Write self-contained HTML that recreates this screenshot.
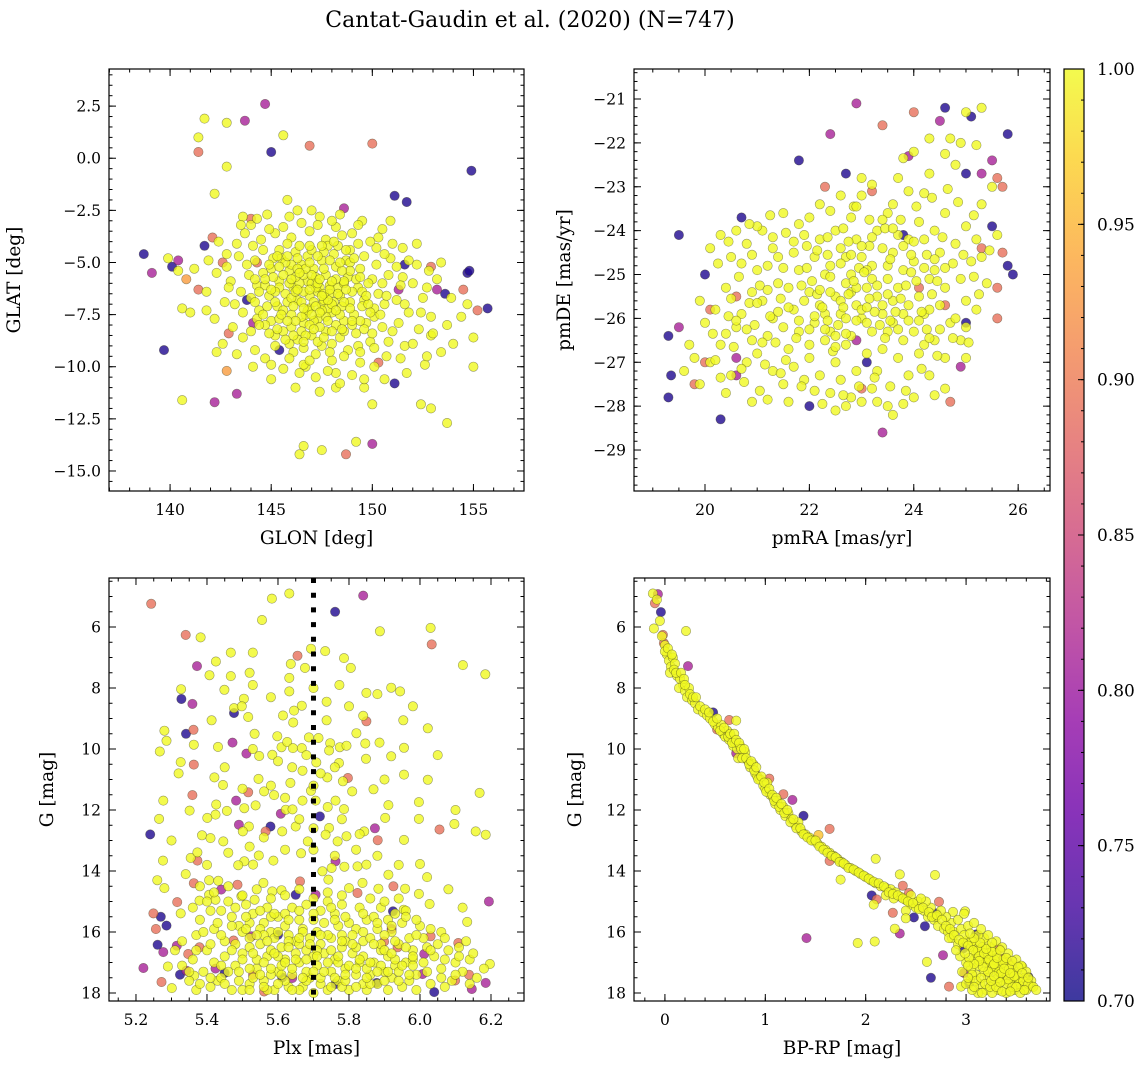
<!DOCTYPE html>
<html><head><meta charset="utf-8">
<style>
html,body{margin:0;padding:0;background:#fff;}
svg{display:block;font-family:"DejaVu Serif","Liberation Serif",serif;}
</style></head>
<body>
<svg id="fig" width="1148" height="1068" viewBox="0 0 1148 1068" xmlns="http://www.w3.org/2000/svg">
<defs>
<linearGradient id="plasmaGrad" x1="0" y1="1" x2="0" y2="0">
<stop offset="0" stop-color="#0d0887"/><stop offset="0.1" stop-color="#41049d"/><stop offset="0.2" stop-color="#6a00a8"/><stop offset="0.3" stop-color="#8f0da4"/><stop offset="0.4" stop-color="#b12a90"/><stop offset="0.5" stop-color="#cc4778"/><stop offset="0.6" stop-color="#e16462"/><stop offset="0.7" stop-color="#f2844b"/><stop offset="0.8" stop-color="#fca636"/><stop offset="0.9" stop-color="#fcce25"/><stop offset="1" stop-color="#f0f921"/>
</linearGradient>
</defs>
<text x="530" y="27" font-size="22" text-anchor="middle">Cantat-Gaudin et al. (2020) (N=747)</text>
</svg>
<script>
// ---------- DATA ----------
const memberProb = 1.0;
// Panel 1: GLON, GLAT
const p1Members = [[146.1,-6.2],[146.8,-5.9],[147.3,-6.4],[147.9,-6.1],[148.4,-6.6],[148.9,-6.9],[147.5,-7.0],[146.9,-7.2],[146.3,-6.8],[145.7,-6.5],[145.4,-5.9],[145.9,-5.4],[146.5,-5.1],[147.1,-5.3],[147.7,-5.6],[148.2,-5.2],[148.8,-5.7],[149.3,-6.2],[149.6,-6.8],[149.1,-7.5],[148.6,-7.8],[148.0,-7.4],[147.3,-7.7],[146.6,-7.9],[146.0,-7.5],[145.3,-7.1],[144.9,-6.6],[145.0,-5.3],[145.5,-4.8],[146.2,-4.5],[146.8,-4.7],[147.5,-4.9],[148.1,-4.6],[148.7,-4.9],[149.4,-5.3],[150.0,-5.8],[150.3,-6.5],[150.1,-7.2],[149.7,-7.9],[149.2,-8.4],[148.4,-8.6],[147.7,-8.3],[147.0,-8.5],[146.3,-8.7],[145.6,-8.3],[145.0,-7.8],[144.4,-7.3],[144.3,-6.1],[144.6,-5.5],[144.2,-4.9],[146.9,-6.6],[147.6,-6.8],[148.3,-6.2],[147.0,-6.0],[147.8,-7.2],[146.4,-6.0],[148.6,-6.0],[147.2,-5.7],[146.7,-7.5],[148.1,-6.9],[149.0,-6.4],[145.8,-6.9],[147.4,-6.2],[146.2,-5.7],[148.9,-5.0],[149.8,-6.0],[150.6,-7.0],[150.8,-5.6],[151.2,-6.8],[150.5,-8.1],[151.0,-8.3],[149.9,-8.8],[148.8,-9.2],[147.5,-9.0],[146.1,-9.3],[145.2,-9.0],[144.0,-8.3],[143.6,-7.4],[143.5,-6.4],[143.9,-5.6],[143.4,-4.7],[144.5,-3.9],[145.2,-3.6],[146.0,-3.8],[146.9,-3.5],[147.7,-3.9],[148.5,-3.7],[149.3,-4.1],[150.2,-4.3],[150.9,-4.8],[151.5,-5.7],[151.8,-7.4],[152.3,-8.2],[151.6,-9.0],[150.7,-9.5],[149.4,-9.8],[148.0,-9.7],[146.7,-10.0],[145.6,-10.1],[144.7,-9.6],[143.1,-8.1],[142.7,-6.9],[142.3,-5.5],[142.8,-4.6],[143.7,-3.6],[144.8,-2.7],[146.3,-2.5],[147.4,-2.8],[148.4,-2.7],[149.5,-3.0],[150.5,-3.4],[151.5,-4.3],[152.2,-5.1],[152.7,-6.2],[152.9,-7.6],[147.1,-6.9],[147.9,-6.5],[146.6,-6.4],[148.5,-7.1],[147.6,-5.3],[146.0,-6.7],[148.2,-8.0],[145.4,-6.2],[146.5,-8.3],[149.5,-7.1],[147.8,-4.2],[143.0,-5.9],[153.4,-5.0],[154.0,-8.9],[152.6,-9.9],[141.8,-6.4],[141.2,-5.3],[153.9,-6.7],[141.7,1.9],[141.4,1.0],[142.8,1.7],[145.6,1.1],[142.8,-0.4],[142.2,-1.7],[145.8,-2.0],[140.6,-7.2],[141.0,-7.4],[140.6,-11.6],[142.3,-9.3],[154.7,-7.0],[155.0,-8.6],[155.0,-10.0],[149.2,-13.6],[147.5,-14.0],[146.4,-14.2],[146.6,-13.8],[152.4,-11.8],[152.9,-12.0],[153.7,-12.7],[150.0,-11.8],[149.6,-11.0],[148.2,-11.0],[148.2,-10.3],[147.2,-10.5],[146.4,-10.3],[146.6,-9.9],[152.9,-8.5],[153.4,-9.3],[153.7,-8.0],[154.4,-7.6],[140.4,-5.4],[139.9,-4.8]];
const p1MembersCore = [[145.6,-5.6],[145.9,-6.0],[146.2,-6.4],[146.5,-6.9],[146.8,-7.3],[147.1,-7.8],[147.4,-8.1],[147.7,-7.6],[148.0,-7.0],[148.3,-6.5],[148.6,-5.9],[148.9,-5.4],[149.2,-5.8],[149.5,-6.4],[149.8,-7.0],[150.1,-7.6],[149.6,-8.2],[149.0,-8.0],[148.4,-7.5],[147.8,-6.8],[147.2,-6.2],[146.6,-5.6],[146.0,-5.1],[145.4,-4.4],[145.8,-4.1],[146.4,-4.2],[147.0,-4.4],[147.6,-4.5],[148.3,-4.2],[148.9,-4.4],[149.6,-4.7],[150.2,-5.1],[150.5,-6.0],[150.7,-6.6],[150.4,-7.5],[150.0,-8.4],[149.3,-9.0],[148.6,-8.3],[148.0,-8.9],[147.3,-8.8],[146.7,-8.5],[146.0,-8.1],[145.4,-7.7],[144.8,-7.1],[144.7,-6.1],[145.1,-5.7],[145.2,-6.4],[145.6,-7.3],[146.1,-7.1],[146.5,-7.6],[146.9,-8.0],[147.5,-7.3],[147.6,-6.5],[147.3,-6.0],[147.0,-5.6],[146.7,-5.3],[146.3,-5.3],[145.7,-5.0],[145.1,-4.8],[144.6,-4.4],[144.1,-4.2],[143.8,-5.1],[144.2,-5.8],[144.0,-6.7],[144.3,-7.7],[144.7,-8.0],[145.2,-8.5],[145.9,-8.9],[146.6,-9.1],[147.2,-9.4],[147.9,-9.3],[148.6,-9.5],[149.4,-9.3],[150.1,-9.1],[150.8,-8.8],[151.3,-7.9],[151.6,-7.0],[151.4,-6.1],[151.2,-5.2],[150.6,-4.6],[149.9,-4.0],[149.0,-3.6],[148.2,-3.3],[147.3,-3.2],[146.5,-3.1],[145.6,-3.3],[144.9,-3.4],[144.0,-3.2],[143.3,-4.1],[142.8,-5.2],[142.9,-6.2],[143.2,-7.0],[143.6,-8.6],[144.2,-9.2],[145.0,-9.9],[145.9,-9.6],[146.9,-9.7],[147.8,-10.2],[149.0,-10.4],[150.1,-10.0],[151.4,-9.6],[152.0,-8.9],[152.4,-7.4],[152.5,-6.7],[152.0,-6.0],[151.8,-4.9],[151.0,-4.1],[150.3,-3.8],[147.2,-7.1],[147.5,-6.6],[147.9,-6.3],[148.2,-5.8],[148.5,-5.4],[148.0,-5.9],[147.4,-5.8],[146.9,-6.3],[146.3,-6.3],[146.0,-5.8],[146.4,-5.5],[146.9,-5.0],[147.3,-4.7],[147.9,-4.9],[148.4,-5.0],[148.7,-6.3],[148.9,-7.2],[148.6,-6.9],[148.2,-7.3],[147.8,-7.8],[147.4,-7.4],[147.0,-7.5],[146.6,-7.2],[146.2,-7.8],[145.8,-7.8],[145.5,-7.5],[145.2,-6.9],[145.0,-6.3],[145.4,-5.2],[145.8,-4.7],[146.3,-4.8],[146.9,-4.2],[147.5,-4.2],[148.1,-4.0],[148.7,-4.4],[149.1,-4.8],[149.4,-5.7],[149.7,-6.6],[149.9,-7.4],[149.4,-7.8],[149.0,-7.8],[148.5,-8.2],[148.0,-8.3],[147.6,-8.6],[147.1,-8.2],[146.6,-8.8],[146.1,-8.5],[145.7,-8.7],[145.3,-8.2],[144.9,-8.4],[144.4,-8.0],[144.6,-7.5],[144.2,-6.9],[144.4,-6.4],[144.7,-5.8],[144.9,-5.1],[145.3,-4.7],[143.6,-2.8],[144.3,-2.9],[145.9,-2.8],[147.0,-2.5],[148.0,-3.0],[149.3,-3.2],[150.9,-3.0],[152.2,-4.1],[152.8,-5.4],[153.2,-5.8],[153.0,-8.4],[152.7,-9.5],[151.7,-10.3],[150.6,-10.6],[149.6,-10.6],[148.4,-10.8],[147.4,-11.2],[146.2,-11.0],[145.0,-10.6],[144.1,-10.0],[143.3,-9.4],[142.6,-8.9],[142.2,-7.7],[141.8,-7.3],[141.9,-4.9],[142.4,-4.0],[143.5,-3.2]];
const p1Others = [[143.7,1.8,0.81],[144.7,2.6,0.81],[146.9,0.6,0.89],[141.4,0.3,0.89],[145.0,0.3,0.71],[150.0,0.7,0.89],[154.9,-0.6,0.71],[151.1,-1.8,0.71],[151.7,-2.1,0.71],[148.6,-2.4,0.81],[138.7,-4.6,0.71],[139.1,-5.5,0.81],[140.4,-4.9,0.81],[140.1,-5.2,0.71],[141.7,-4.2,0.71],[142.1,-3.8,0.89],[144.0,-2.9,0.89],[140.8,-5.8,0.93],[141.4,-6.3,0.89],[139.7,-9.2,0.71],[142.2,-11.7,0.81],[143.3,-11.3,0.81],[142.8,-10.2,0.93],[142.9,-8.4,0.89],[144.1,-7.9,0.81],[145.4,-9.2,0.71],[152.9,-5.2,0.89],[153.2,-6.3,0.81],[153.6,-6.5,0.71],[154.5,-6.3,0.89],[154.7,-5.5,0.71],[154.8,-5.4,0.71],[155.2,-7.3,0.89],[155.7,-7.2,0.71],[151.6,-5.1,0.71],[151.3,-6.3,0.81],[151.1,-10.8,0.71],[150.3,-9.8,0.89],[150.0,-13.7,0.81],[148.7,-14.2,0.89],[143.8,-6.8,0.71],[144.3,-5.0,0.89],[142.6,-5.0,0.89]];
// Panel 2: pmRA, pmDE
const p2Members = [[20.1,-24.4],[20.3,-24.1],[20.5,-24.6],[20.4,-25.3],[20.2,-25.8],[20.6,-26.2],[20.3,-26.6],[20.1,-27.0],[20.5,-27.3],[20.8,-27.0],[20.9,-26.5],[20.7,-25.9],[20.9,-25.4],[21.0,-24.9],[20.8,-24.3],[21.1,-24.0],[21.3,-24.4],[21.2,-24.8],[21.4,-25.2],[21.1,-25.6],[21.3,-26.0],[21.2,-26.4],[21.0,-26.8],[21.3,-27.2],[21.5,-27.5],[21.7,-27.1],[21.6,-26.7],[21.5,-26.2],[21.7,-25.8],[21.6,-25.3],[21.8,-24.9],[21.7,-24.5],[21.9,-24.1],[22.0,-23.7],[22.2,-24.2],[22.1,-24.6],[22.3,-25.0],[22.0,-25.4],[22.2,-25.7],[22.1,-26.1],[22.3,-26.5],[22.0,-26.9],[22.2,-27.3],[22.4,-27.7],[22.6,-27.4],[22.5,-27.0],[22.7,-26.6],[22.4,-26.3],[22.6,-25.9],[22.5,-25.5],[22.7,-25.2],[22.4,-24.8],[22.6,-24.4],[22.5,-24.0],[22.8,-23.7],[22.9,-24.2],[23.0,-24.6],[22.8,-25.0],[23.1,-25.3],[22.9,-25.7],[23.0,-26.0],[22.8,-26.4],[23.1,-26.8],[22.9,-27.2],[23.2,-27.6],[23.3,-27.2],[23.4,-26.7],[23.2,-26.3],[23.4,-25.9],[23.3,-25.5],[23.5,-25.1],[23.2,-24.8],[23.4,-24.4],[23.3,-24.0],[23.5,-23.6],[23.7,-24.1],[23.6,-24.5],[23.8,-24.9],[23.7,-25.3],[23.9,-25.7],[23.6,-26.1],[23.8,-26.5],[23.7,-26.9],[23.9,-27.3],[24.1,-26.8],[24.0,-26.3],[24.2,-25.9],[24.1,-25.5],[24.3,-25.1],[24.0,-24.7],[24.2,-24.2],[24.1,-23.8],[24.4,-24.0],[24.5,-24.5],[24.4,-24.9],[24.6,-25.3],[24.5,-25.7],[24.7,-26.1],[24.4,-26.5],[24.6,-26.9],[24.9,-26.5],[24.8,-26.0],[25.0,-25.6],[24.9,-25.1],[25.1,-24.7],[24.8,-24.3],[25.0,-23.9],[25.2,-24.2],[25.3,-24.6],[25.4,-25.2],[25.2,-25.8],[25.0,-26.2],[22.6,-25.6],[22.8,-25.4],[23.0,-25.8],[23.2,-25.1],[22.9,-25.3],[23.1,-26.1],[22.7,-26.0],[23.4,-25.7],[23.5,-26.3],[22.3,-25.9],[22.5,-26.4],[23.6,-25.6],[23.8,-25.9],[22.4,-25.4],[21.9,-25.6],[21.8,-26.3],[22.0,-26.6],[24.3,-25.8],[24.2,-26.6],[23.9,-24.2],[23.6,-23.4],[23.0,-23.2],[22.2,-23.4],[21.5,-23.6],[21.0,-23.9],[24.6,-23.6],[24.8,-22.5],[24.9,-22.0],[24.3,-22.7],[23.9,-23.1],[25.3,-23.4],[25.6,-24.1],[25.5,-23.0],[24.0,-22.2],[24.3,-21.9],[23.7,-22.8],[20.0,-26.1],[19.7,-26.6],[19.6,-27.2],[19.9,-27.5],[20.4,-27.7],[20.9,-27.9],[21.6,-27.9],[22.5,-28.1],[23.0,-27.9],[23.6,-28.2],[23.3,-27.9],[24.3,-27.3],[24.6,-27.6],[25.0,-26.9],[25.0,-21.3],[25.3,-21.2],[24.7,-21.9],[23.0,-22.8],[22.6,-23.2],[21.4,-24.6],[23.1,-24.9],[22.7,-24.6],[23.5,-24.8],[21.9,-27.4],[22.8,-27.8],[24.0,-27.8],[20.6,-24.0]];
const p2MembersCore = [[22.05,-25.15],[22.15,-25.45],[22.25,-25.75],[22.35,-26.05],[22.45,-26.75],[22.55,-26.15],[22.65,-25.75],[22.75,-25.45],[22.85,-25.15],[22.95,-24.85],[23.05,-24.95],[23.15,-25.55],[23.25,-25.85],[23.35,-26.15],[23.45,-26.45],[23.55,-26.05],[23.65,-25.85],[23.75,-25.55],[23.85,-25.25],[23.95,-24.95],[24.05,-25.15],[24.15,-25.85],[24.25,-26.25],[24.35,-25.45],[24.45,-25.15],[21.85,-25.25],[21.95,-24.85],[22.15,-24.45],[22.35,-24.15],[22.65,-23.95],[22.85,-23.45],[23.15,-23.75],[23.45,-23.95],[23.75,-23.75],[24.05,-23.45],[24.35,-23.25],[24.65,-23.05],[24.85,-23.35],[25.15,-23.65],[25.45,-24.45],[24.75,-24.75],[24.55,-24.15],[24.25,-24.55],[23.95,-24.55],[23.55,-24.65],[23.15,-24.35],[22.75,-24.25],[22.35,-24.55],[21.95,-24.35],[21.55,-24.05],[21.25,-23.65],[20.85,-23.85],[20.45,-24.25],[20.25,-24.75],[20.65,-25.05],[21.05,-25.25],[21.45,-25.55],[21.25,-25.95],[20.85,-25.65],[20.45,-25.95],[20.15,-26.35],[20.55,-26.65],[20.95,-26.15],[21.35,-26.55],[21.75,-26.45],[21.55,-26.95],[21.15,-27.05],[20.75,-27.45],[21.05,-27.65],[21.45,-27.25],[21.85,-27.55],[22.25,-27.95],[22.65,-27.75],[22.95,-27.55],[23.25,-27.35],[23.55,-27.55],[23.85,-27.65],[24.15,-27.15],[24.45,-26.85],[24.75,-26.45],[25.05,-26.55],[25.25,-25.45],[25.15,-25.05],[24.95,-24.55],[22.1,-25.95],[22.3,-26.25],[22.5,-26.65],[22.7,-26.35],[22.9,-26.05],[23.1,-25.75],[23.3,-25.25],[23.5,-25.45],[23.7,-26.25],[23.9,-26.05],[24.1,-26.05],[24.3,-26.45],[24.5,-26.25],[22.2,-25.35],[22.4,-25.05],[22.6,-24.75],[22.8,-24.55],[23.0,-24.35],[23.2,-24.15],[23.4,-23.75],[23.6,-23.95],[23.8,-24.35],[24.0,-24.25],[24.2,-24.85],[24.4,-24.65],[24.6,-24.85],[22.0,-26.25],[21.8,-26.05],[21.6,-25.75],[21.4,-25.85],[21.2,-25.35],[21.0,-25.65],[20.8,-26.25],[20.6,-26.05],[20.4,-26.35],[20.2,-26.95],[20.7,-27.15],[21.1,-26.55],[21.5,-24.85],[21.7,-24.25],[21.3,-24.15],[20.9,-24.55],[20.7,-24.75],[20.5,-25.55],[21.8,-23.85],[22.4,-23.55],[23.2,-22.95],[23.8,-22.35],[24.6,-22.25],[25.2,-22.05],[24.2,-23.15],[22.9,-23.45],[19.9,-25.6],[19.8,-26.9],[20.3,-27.35],[21.2,-27.85],[22.1,-27.65],[23.8,-27.95],[24.4,-27.75],[23.5,-28.0],[22.7,-28.0]];
const p2Others = [[21.8,-22.4,0.71],[22.4,-21.8,0.81],[22.9,-21.1,0.81],[23.4,-21.6,0.89],[24.0,-21.3,0.89],[24.6,-21.2,0.71],[24.5,-21.5,0.81],[25.1,-21.4,0.71],[23.9,-22.3,0.81],[25.8,-21.8,0.71],[25.5,-22.4,0.81],[25.7,-23.0,0.89],[25.0,-22.7,0.71],[25.3,-22.7,0.81],[25.6,-22.8,0.89],[22.3,-23.0,0.89],[23.2,-23.1,0.89],[22.7,-22.7,0.71],[20.7,-23.7,0.71],[19.5,-24.1,0.71],[20.0,-25.0,0.71],[19.3,-26.4,0.71],[19.5,-26.2,0.81],[19.35,-27.3,0.71],[19.3,-27.8,0.71],[19.8,-27.5,0.89],[20.3,-28.3,0.71],[20.6,-26.9,0.81],[20.6,-27.3,0.81],[20.0,-27.0,0.89],[20.1,-25.8,0.89],[20.6,-25.5,0.89],[22.0,-28.0,0.71],[23.4,-28.6,0.81],[23.0,-27.6,0.89],[24.1,-25.3,0.89],[24.6,-25.7,0.89],[25.3,-24.4,0.89],[25.8,-24.8,0.71],[25.6,-25.3,0.89],[25.9,-25.0,0.71],[25.7,-24.5,0.89],[25.5,-23.9,0.71],[24.9,-27.1,0.81],[24.7,-27.9,0.89],[23.1,-27.0,0.71],[22.9,-26.5,0.81],[23.8,-24.1,0.71],[25.6,-26.0,0.89],[25.0,-26.1,0.71]];
// Panel 3: Plx, G
const p3Members = [[5.632,4.90],[5.583,5.07],[5.555,5.77],[5.382,6.34],[5.887,6.14],[6.030,6.03],[5.693,6.71],[5.733,6.79],[5.467,6.84],[5.529,6.84],[5.425,7.13],[5.636,7.21],[5.676,7.34],[5.786,7.02],[5.805,7.34],[6.121,7.25],[6.184,7.55],[5.407,7.58],[5.467,7.61],[5.632,7.67],[5.529,7.90],[5.773,7.90],[5.919,7.99],[5.944,8.11],[5.327,8.04],[5.449,8.06],[5.632,8.11],[5.504,8.35],[5.476,8.66],[5.498,8.60],[5.667,8.58],[5.737,8.45],[5.645,8.74],[5.849,8.16],[5.413,9.06],[5.516,8.95],[5.614,8.90],[5.643,9.13],[5.737,9.06],[5.840,8.91],[5.953,9.06],[6.022,9.32],[5.286,9.73],[5.267,10.08],[5.363,9.86],[5.326,10.43],[5.431,9.93],[5.534,9.50],[5.529,10.00],[5.547,10.23],[5.584,10.19],[5.598,9.58],[5.610,9.94],[5.626,9.77],[5.642,9.97],[5.667,9.97],[5.687,9.62],[5.714,9.64],[5.669,10.71],[5.747,9.81],[5.744,10.05],[5.774,9.94],[5.793,9.89],[5.821,9.48],[5.846,9.82],[5.848,10.32],[5.886,9.79],[5.919,10.24],[5.955,9.96],[5.772,10.46],[5.708,10.44],[5.421,10.93],[5.445,11.18],[5.277,11.69],[5.351,12.02],[5.265,12.29],[5.545,10.98],[5.561,11.39],[5.537,11.85],[5.426,11.82],[5.424,12.15],[5.401,12.26],[5.456,12.03],[5.505,11.94],[5.589,11.51],[5.635,11.11],[5.622,11.99],[5.641,11.98],[5.669,11.69],[5.693,11.37],[5.706,11.69],[5.739,10.93],[5.762,11.69],[5.786,11.97],[5.783,11.06],[5.809,11.39],[5.869,11.32],[5.911,11.84],[5.955,10.84],[5.997,11.74],[6.022,11.01],[6.168,11.44],[5.902,12.26],[5.997,12.29],[6.097,12.46],[6.157,12.70],[6.185,12.81],[5.843,12.70],[5.830,12.79],[5.793,12.86],[5.768,13.03],[5.744,12.59],[5.734,12.81],[5.684,13.03],[5.650,12.54],[5.612,12.70],[5.518,12.54],[5.501,12.70],[5.446,13.03],[5.386,12.83],[5.410,12.92],[5.354,13.57],[5.276,13.66],[5.373,13.39],[5.505,13.68],[5.546,13.49],[5.530,13.79],[5.488,13.81],[5.587,13.66],[5.665,13.42],[5.751,13.90],[5.787,13.86],[5.824,13.85],[5.849,13.79],[5.955,12.98],[6.000,13.77],[6.133,15.67],[5.260,14.30],[5.280,14.56],[5.326,15.39],[5.290,17.13],[5.301,17.84],[5.364,17.43],[5.406,14.30],[5.432,14.32],[5.406,14.78],[5.424,14.94],[5.379,14.97],[5.497,14.83],[5.534,14.94],[5.559,14.39],[5.584,14.67],[5.610,14.63],[5.742,14.28],[5.725,14.01],[5.800,14.56],[5.838,14.39],[5.883,14.58],[5.911,14.12],[5.958,14.58],[5.997,14.75],[6.027,15.08],[5.954,15.27],[6.197,17.05],[5.38,15.6],[5.42,15.9],[5.45,16.3],[5.40,16.6],[5.36,16.9],[5.39,17.3],[5.43,17.6],[5.47,17.9],[5.48,17.1],[5.50,16.7],[5.52,16.2],[5.49,15.8],[5.53,15.4],[5.56,15.7],[5.58,16.0],[5.55,16.4],[5.57,16.8],[5.54,17.2],[5.56,17.6],[5.59,17.9],[5.60,17.3],[5.62,16.9],[5.61,16.5],[5.63,16.1],[5.60,15.5],[5.64,15.2],[5.66,15.6],[5.67,15.9],[5.65,16.3],[5.68,16.6],[5.66,17.0],[5.64,17.4],[5.67,17.8],[5.69,17.5],[5.71,17.1],[5.70,16.8],[5.72,16.4],[5.71,16.0],[5.73,15.7],[5.72,15.3],[5.74,15.0],[5.76,15.4],[5.77,15.8],[5.75,16.2],[5.78,16.5],[5.76,16.9],[5.79,17.2],[5.77,17.6],[5.80,17.9],[5.82,17.4],[5.83,17.0],[5.81,16.7],[5.84,16.3],[5.82,15.9],[5.85,15.6],[5.83,15.2],[5.87,15.5],[5.88,15.9],[5.86,16.2],[5.89,16.6],[5.87,17.0],[5.90,17.3],[5.88,17.7],[5.92,17.5],[5.93,17.1],[5.91,16.8],[5.94,16.4],[5.92,16.0],[5.95,15.7],[5.97,16.2],[5.98,16.6],[5.96,17.0],[5.99,17.4],[6.01,17.0],[6.02,16.5],[6.04,16.8],[6.06,17.2],[6.08,16.6],[6.10,17.0],[6.12,17.3],[6.14,16.9],[6.16,17.5],[6.03,17.7],[5.95,17.8],[5.85,17.9],[5.74,17.9],[5.63,17.8],[5.52,17.7],[5.44,17.5],[5.35,17.6],[5.33,17.1],[5.31,16.6],[5.33,16.3],[5.37,16.1],[5.41,15.3],[5.46,15.0],[5.51,15.1],[5.57,15.2],[5.62,15.4],[5.68,15.1],[5.78,15.1],[5.89,15.2],[5.96,15.3],[6.00,15.8],[6.06,16.0],[6.13,16.3],[5.50,16.0],[5.52,16.5],[5.54,16.9],[5.58,16.6],[5.59,16.2],[5.62,15.8],[5.65,16.7],[5.69,16.2],[5.70,15.6],[5.73,16.7],[5.75,17.3],[5.78,16.1],[5.80,15.7],[5.81,16.1],[5.84,16.8],[5.86,17.4],[5.89,16.4],[5.91,15.6],[5.93,16.9],[5.97,17.6],[5.62,17.6],[5.58,17.4],[5.53,17.5],[5.48,16.4],[5.45,16.8],[5.42,17.0],[5.46,17.3],[5.39,16.0],[5.43,15.7],[5.47,15.5],[5.55,15.9],[5.61,17.1],[5.66,16.4],[5.71,16.6],[5.74,16.1],[5.77,17.0],[5.79,16.3],[5.82,16.5],[5.85,17.2],[5.90,16.1],[5.93,15.4],[5.98,16.9],[6.01,16.2],[6.05,16.4],[6.09,17.6],[6.11,16.8],[5.37,17.9],[5.41,17.8],[5.50,17.9],[5.57,17.9],[5.66,17.9],[5.70,18.0],[5.78,17.8],[5.84,17.7],[5.91,17.9],[5.99,17.9],[6.07,17.8],[5.56,16.1],[5.60,16.8],[5.68,17.3],[5.72,17.7],[5.63,16.3],[5.67,16.0],[5.76,15.6],[5.58,15.5],[5.52,15.7]];
const p3MembersExtra = [[5.36,15.2],[5.40,15.0],[5.44,15.3],[5.48,15.2],[5.51,15.5],[5.55,15.3],[5.59,15.4],[5.63,15.6],[5.66,15.3],[5.70,15.4],[5.75,15.2],[5.79,15.5],[5.84,15.4],[5.88,15.7],[5.92,15.8],[5.96,15.5],[5.99,15.6],[6.03,15.9],[6.07,16.2],[6.11,16.5],[6.15,16.7],[6.18,17.2],[6.14,17.7],[6.10,17.4],[6.06,17.5],[6.02,17.3],[5.98,17.1],[5.94,17.3],[5.90,17.6],[5.86,17.7],[5.82,17.8],[5.79,17.6],[5.75,17.8],[5.72,17.5],[5.68,17.6],[5.64,17.9],[5.60,17.7],[5.56,17.8],[5.52,17.9],[5.49,17.6],[5.45,17.7],[5.41,17.5],[5.38,17.7],[5.35,17.3],[5.37,16.6],[5.41,16.4],[5.44,16.1],[5.47,15.8],[5.51,15.9],[5.54,16.1],[5.57,16.3],[5.60,16.0],[5.63,16.5],[5.66,16.2],[5.69,16.4],[5.72,16.1],[5.75,16.6],[5.78,16.3],[5.81,16.4],[5.84,16.0],[5.87,16.4],[5.90,16.6],[5.93,16.3],[5.96,16.5],[5.99,16.1],[6.03,16.6],[6.07,16.9],[5.47,16.6],[5.50,16.9],[5.53,16.7],[5.56,17.0],[5.59,16.7],[5.62,17.0],[5.65,16.9],[5.68,16.9],[5.71,16.8],[5.74,17.0],[5.77,16.8],[5.80,17.1],[5.83,16.9],[5.86,17.0],[5.89,17.1],[5.92,16.7],[5.95,17.1],[5.98,16.8],[5.44,17.1],[5.49,17.3],[5.52,17.2],[5.55,17.4],[5.58,17.2],[5.61,17.4],[5.64,17.2],[5.67,17.5],[5.70,17.3],[5.73,17.3],[5.76,17.5],[5.79,17.4],[5.82,17.2],[5.85,17.5],[5.88,17.3],[5.91,17.3],[5.94,17.6],[5.97,17.4],[5.62,14.8],[5.66,14.6],[5.70,14.9],[5.74,14.7],[5.78,14.8],[5.58,14.9],[5.54,14.6],[5.46,14.5],[5.50,14.8],[5.86,14.9],[5.90,15.0],[5.94,14.9],[5.42,14.7],[5.38,14.5],[5.60,10.4],[5.64,10.6],[5.68,10.2],[5.72,10.8],[5.76,10.6],[5.58,11.2],[5.62,11.6],[5.70,11.2],[5.74,11.9],[5.66,12.3],[5.70,12.6],[5.78,12.3],[5.56,12.9],[5.62,13.3],[5.70,13.3],[5.76,13.5],[5.82,13.3],[5.52,13.2],[5.46,13.4],[5.40,13.8],[5.34,14.1],[5.30,13.0],[5.88,13.5],[5.94,13.8],[6.02,14.2],[6.08,14.6],[6.12,15.2],[5.28,9.4],[5.32,10.8],[5.45,10.6],[5.50,11.3],[5.90,11.0],[6.05,10.2],[6.10,12.0],[5.98,8.6],[5.88,8.2],[5.52,7.5],[5.58,8.3],[5.70,8.0],[5.80,8.6]];
const p3Others = [[5.243,5.24,0.89],[5.840,4.97,0.81],[5.761,5.50,0.71],[5.340,6.26,0.89],[6.033,6.57,0.89],[5.655,6.94,0.89],[5.372,7.28,0.81],[5.328,8.36,0.71],[5.359,8.52,0.81],[5.476,8.82,0.71],[5.849,9.09,0.89],[5.362,9.37,0.89],[5.341,9.50,0.71],[5.363,10.51,0.89],[5.472,9.79,0.81],[5.511,10.15,0.81],[5.359,11.51,0.89],[5.240,12.80,0.71],[5.516,11.42,0.89],[5.482,11.69,0.81],[5.608,12.12,0.81],[5.718,12.21,0.71],[5.797,10.95,0.89],[6.055,12.64,0.89],[5.873,12.60,0.81],[5.881,12.99,0.89],[5.565,12.70,0.89],[5.579,12.54,0.71],[5.490,12.48,0.81],[5.373,13.66,0.89],[5.762,13.68,0.81],[6.194,15.00,0.81],[5.363,14.40,0.89],[5.316,15.02,0.89],[5.249,15.39,0.89],[5.270,15.50,0.71],[5.286,15.79,0.71],[5.256,15.90,0.89],[5.261,16.42,0.71],[5.277,16.66,0.81],[5.221,17.18,0.81],[5.272,17.64,0.89],[5.324,17.40,0.71],[5.342,17.27,0.81],[5.347,16.72,0.89],[5.315,16.45,0.81],[5.379,16.50,0.89],[5.440,14.61,0.81],[5.486,14.45,0.89],[5.662,14.34,0.89],[5.650,14.78,0.71],[5.706,14.78,0.81],[5.824,14.72,0.89],[5.925,14.50,0.89],[5.924,15.32,0.71],[5.920,15.90,0.81],[6.030,16.14,0.89],[6.108,16.36,0.89],[6.138,17.40,0.89],[6.099,17.59,0.89],[6.146,17.87,0.81],[6.185,17.67,0.81],[6.040,17.97,0.71],[6.007,17.38,0.81],[6.012,16.72,0.81],[5.899,16.31,0.89],[5.937,16.50,0.89],[5.878,17.67,0.71],[5.762,17.70,0.71],[5.600,16.09,0.71],[5.525,16.14,0.81],[5.475,16.28,0.89],[5.424,17.20,0.81],[5.450,17.34,0.71],[5.530,17.40,0.89],[5.561,17.95,0.89],[5.612,17.49,0.71],[5.640,17.51,0.81]];
// Panel 4: BP-RP, G
const p4Members = [[-0.12,4.9],[-0.08,5.1],[-0.05,5.8],[-0.11,6.05],[0.21,6.13],[-0.03,6.3],[0.0,6.6],[0.02,6.9],[0.04,7.1],[0.08,7.0],[0.06,7.3],[0.1,7.2],[0.05,7.5],[0.12,7.6],[0.15,7.7],[0.18,7.9],[0.14,8.0],[0.2,8.1],[0.24,8.0],[0.22,8.3],[0.27,8.4],[0.3,8.5],[0.33,8.7],[0.38,8.8],[0.42,8.9],[0.45,9.0],[0.5,9.2],[0.53,9.3],[0.56,9.2],[0.58,9.5],[0.6,9.6],[0.62,9.4],[0.64,9.7],[0.66,9.6],[0.68,9.9],[0.7,9.8],[0.71,9.07],[0.72,10.0],[0.75,9.9],[0.78,10.2],[0.73,10.3],[0.8,10.1],[0.83,10.4],[0.85,10.6],[0.88,10.5],[0.9,10.8],[0.92,10.9],[0.95,11.0],[0.98,11.2],[1.0,11.3],[1.02,11.1],[1.05,11.5],[1.08,11.6],[1.1,11.8],[1.12,11.7],[1.15,12.0],[1.18,11.9],[1.2,12.2],[1.23,12.1],[1.26,12.3],[1.3,12.5],[1.33,12.4],[1.36,12.7],[1.4,12.8],[1.44,12.9],[1.48,13.0],[1.52,13.1],[1.56,13.2],[1.6,13.3],[1.64,13.4],[1.68,13.5],[1.72,13.6],[1.76,13.7],[1.8,13.8],[1.85,13.9],[1.9,14.0],[1.95,14.1],[2.0,14.2],[2.05,14.3],[2.1,14.4],[2.15,14.5],[2.2,14.55],[2.25,14.6],[2.3,14.7],[2.35,14.85],[2.4,14.95],[2.45,15.1],[2.5,15.2],[2.2,14.8],[2.28,14.9],[2.4,15.3],[2.45,14.8],[2.52,15.0],[2.58,15.3],[2.62,15.5],[2.68,15.6],[2.72,15.8],[2.78,15.9],[2.82,16.0],[2.86,16.2],[2.92,16.4],[1.92,16.36],[2.09,16.31],[2.10,13.60],[2.34,14.11],[2.69,14.13],[1.75,14.28],[2.08,15.10],[2.29,15.89],[2.61,16.98],[2.95,17.79],[3.65,17.77],[3.56,17.14],[2.87,15.34],[2.99,15.32],[2.40,15.55],[3.0,16.3],[3.05,16.5],[3.1,16.4],[3.15,16.6],[3.2,16.9],[3.25,16.8],[3.3,17.0],[3.35,17.1],[3.4,17.3],[3.45,17.5],[3.5,17.6],[3.55,17.8],[3.6,17.9],[3.5,17.3],[3.45,17.1],[3.38,16.9],[3.3,16.7],[3.25,16.5],[3.2,16.4],[3.18,16.2],[3.12,16.1],[3.08,16.9],[3.12,17.1],[3.18,17.3],[3.22,17.5],[3.28,17.7],[3.32,17.9],[3.4,18.0],[3.48,17.9],[3.36,17.6],[3.3,17.3],[3.24,17.1],[3.16,16.9],[3.1,17.4],[3.05,17.2],[3.0,17.0],[3.04,17.6],[3.14,17.7],[3.2,17.9],[3.26,18.0],[3.12,18.0],[3.06,17.9],[3.0,17.7],[2.96,17.3],[2.94,16.8],[2.9,16.6],[2.88,16.0],[2.95,15.9],[3.02,15.8],[3.08,15.7],[3.15,15.9],[3.22,16.1],[3.3,16.3],[3.36,16.5],[3.42,16.7],[3.5,16.9],[3.55,17.1],[3.6,17.3],[3.65,17.6],[3.58,17.5],[3.52,17.7],[3.44,17.7],[3.38,17.4],[3.34,17.2],[3.28,16.9],[3.22,16.7],[3.16,16.5],[3.1,16.7],[3.06,16.3],[3.12,16.6],[3.2,17.0],[3.26,17.2],[3.32,17.5],[3.4,17.7],[3.46,17.8],[3.54,18.0],[2.98,16.1],[2.85,15.7],[2.8,15.5],[2.75,15.3],[2.7,15.5],[2.65,15.2],[2.6,15.0],[2.55,14.9],[2.92,15.6],[2.98,15.4],[2.83,16.2]];
const p4MembersExtra = [[0.0,6.8],[0.03,6.7],[0.07,6.9],[0.09,7.4],[0.11,7.5],[0.16,7.5],[0.19,7.7],[0.2,7.9],[0.25,8.2],[0.28,8.3],[0.31,8.3],[0.35,8.6],[0.4,8.7],[0.44,8.8],[0.48,9.1],[0.52,9.0],[0.55,9.4],[0.59,9.3],[0.63,9.6],[0.65,9.5],[0.67,9.8],[0.69,9.5],[0.71,9.7],[0.74,9.8],[0.76,10.0],[0.77,10.3],[0.79,10.0],[0.81,10.3],[0.84,10.5],[0.86,10.4],[0.89,10.7],[0.91,10.6],[0.93,11.0],[0.96,10.9],[0.99,11.1],[1.01,11.4],[1.04,11.3],[1.07,11.5],[1.09,11.7],[1.11,11.6],[1.14,11.9],[1.16,11.8],[1.19,12.1],[1.22,12.0],[1.25,12.4],[1.28,12.3],[1.31,12.6],[1.35,12.6],[1.38,12.8],[1.42,12.9],[1.46,13.0],[1.5,13.0],[1.54,13.2],[1.58,13.3],[1.62,13.4],[1.66,13.5],[1.7,13.55],[1.74,13.7],[1.78,13.75],[1.83,13.9],[1.88,13.95],[1.93,14.05],[1.98,14.15],[2.03,14.25],[2.08,14.35],[2.13,14.4],[2.18,14.5],[2.23,14.7],[2.27,14.75],[2.32,14.8],[2.37,14.9],[2.42,15.0],[2.47,15.05],[2.53,15.25],[2.57,15.2],[2.63,15.35],[2.66,15.5],[2.71,15.45],[2.76,15.6],[2.8,15.8],[2.84,15.9],[2.88,16.1],[2.93,16.25],[2.97,16.35],[3.02,16.45],[3.07,16.6],[3.13,16.8],[3.18,16.7],[3.23,16.9],[3.27,17.1],[3.33,17.3],[3.37,17.0],[3.43,17.2],[3.47,17.35],[3.52,17.5],[3.57,17.6],[3.62,17.7],[3.67,17.8],[3.7,17.9],[3.58,17.9],[3.5,17.8],[3.42,17.55],[3.35,17.35],[3.28,17.05],[3.22,17.3],[3.17,17.15],[3.13,16.95],[3.08,17.05],[3.03,16.85],[2.99,16.7],[3.02,17.1],[3.06,17.4],[3.1,17.6],[3.15,17.5],[3.19,17.7],[3.24,17.8],[3.3,17.8],[3.36,17.95],[3.44,17.95],[3.02,17.5],[3.08,17.8],[3.16,18.0],[3.25,17.6],[3.28,17.45],[3.34,17.65],[3.38,17.2],[3.31,16.85],[3.26,16.65],[3.2,16.55],[3.14,16.35],[3.08,16.2],[3.04,16.05],[3.26,16.35],[3.34,16.6],[3.4,16.85],[3.46,16.95],[3.52,17.15],[3.48,17.45],[3.56,17.35],[3.62,17.5],[3.44,17.35]];
const p4Others = [[-0.07,4.92,0.81],[-0.10,5.22,0.89],[-0.04,5.51,0.71],[-0.02,6.26,0.89],[-0.01,6.53,0.89],[0.23,7.28,0.81],[0.48,8.80,0.71],[0.64,9.05,0.89],[0.52,9.36,0.89],[0.71,10.14,0.81],[1.04,10.97,0.89],[1.18,11.48,0.89],[1.27,11.67,0.81],[1.38,12.19,0.71],[1.64,12.62,0.89],[1.53,12.82,0.96],[1.64,13.67,0.89],[1.41,16.20,0.81],[2.06,14.80,0.71],[2.11,14.93,0.89],[2.27,15.37,0.89],[2.34,16.05,0.81],[2.37,14.48,0.89],[2.43,14.72,0.89],[2.48,15.52,0.71],[2.59,15.81,0.71],[2.65,17.50,0.71],[2.83,17.79,0.89],[2.70,15.39,0.71],[2.73,15.01,0.89],[2.77,16.76,0.81],[2.98,17.34,0.81],[3.03,17.69,0.71],[3.10,16.08,0.71],[3.33,16.55,0.89],[3.37,16.88,0.89],[3.45,17.03,0.89],[3.42,17.42,0.81],[3.62,17.47,0.71],[2.97,16.54,0.71]];
// Tick values
const p1XTicks = [140,145,150,155];
const p1YTicks = [2.5,0,-2.5,-5,-7.5,-10,-12.5,-15];
const p2XTicks = [20,22,24,26];
const p2YTicks = [-21,-22,-23,-24,-25,-26,-27,-28,-29];
const p3XTicks = [5.2,5.4,5.6,5.8,6.0,6.2];
const gTicks = [6,8,10,12,14,16,18];
const p4XTicks = [0,1,2,3];
const cbTicks = [0.70,0.75,0.80,0.85,0.90,0.95,1.00];
const plxLine = 5.7;
const cbMin = 0.70, cbMax = 1.00;

// ---------- RENDER ----------
const NS = "http://www.w3.org/2000/svg";
const svg = document.getElementById('fig');
const plasmaStops = ["#0d0887","#41049d","#6a00a8","#8f0da4","#b12a90","#cc4778","#e16462","#f2844b","#fca636","#fcce25","#f0f921"];
function hex(h){return [parseInt(h.substr(1,2),16),parseInt(h.substr(3,2),16),parseInt(h.substr(5,2),16)];}
function plasma(p){
  let t=(p-cbMin)/(cbMax-cbMin); t=Math.max(0,Math.min(1,t));
  const f=t*10, i=Math.min(9,Math.floor(f)), r=f-i;
  const a=hex(plasmaStops[i]), b=hex(plasmaStops[i+1]);
  return 'rgb('+a.map((v,k)=>Math.round(v+(b[k]-v)*r)).join(',')+')';
}
function mk(tag, attrs, parent){
  const e=document.createElementNS(NS,tag);
  for(const k in attrs) e.setAttribute(k,attrs[k]);
  (parent||svg).appendChild(e); return e;
}
function fmt(v,d){const s=Math.abs(v).toFixed(d);return (v<0?'\u2212':'')+s;}

const panels = [
 {name:'glon-glat', x0:109,x1:524,y0:69,y1:491, xd:[136.98,157.5], yd:[-15.96,4.28], yInv:false,
  xt:p1XTicks, xdec:0, xminor:1, yt:p1YTicks, ydec:1, yminor:0.5, xl:'GLON [deg]', yl:'GLAT [deg]', ylx:20,
  mem:p1Members.concat(p1MembersCore), oth:p1Others},
 {name:'pmra-pmde', x0:634,x1:1050,y0:69,y1:491, xd:[18.64,26.61], yd:[-29.934,-20.316], yInv:false,
  xt:p2XTicks, xdec:0, xminor:0.5, yt:p2YTicks, ydec:0, yminor:0.2, xl:'pmRA [mas/yr]', yl:'pmDE [mas/yr]', ylx:570,
  mem:p2Members.concat(p2MembersCore), oth:p2Others},
 {name:'plx-g', x0:109,x1:524,y0:578,y1:1001, xd:[5.124,6.293], yd:[4.393,18.262], yInv:true,
  xt:p3XTicks, xdec:1, xminor:0.05, yt:gTicks, ydec:0, yminor:0.5, xl:'Plx [mas]', yl:'G [mag]', ylx:53,
  mem:p3Members.concat(p3MembersExtra), oth:p3Others},
 {name:'bprp-g', x0:634,x1:1050,y0:578,y1:1001, xd:[-0.308,3.836], yd:[4.393,18.262], yInv:true,
  xt:p4XTicks, xdec:0, xminor:0.2, yt:gTicks, ydec:0, yminor:0.5, xl:'BP-RP [mag]', yl:'G [mag]', ylx:581,
  mem:p4Members.concat(p4MembersExtra), oth:p4Others}
];

panels.forEach((P,pi)=>{
  const sx=v=>P.x0+(v-P.xd[0])/(P.xd[1]-P.xd[0])*(P.x1-P.x0);
  const sy=v=>P.yInv ? P.y0+(v-P.yd[0])/(P.yd[1]-P.yd[0])*(P.y1-P.y0)
                     : P.y1-(v-P.yd[0])/(P.yd[1]-P.yd[0])*(P.y1-P.y0);
  const g=mk('g',{});
  
  
  const clipId='clip'+pi;
  const cp=mk('clipPath',{id:clipId},g);
  mk('rect',{x:P.x0,y:P.y0,width:P.x1-P.x0,height:P.y1-P.y0},cp);
  const pts=mk('g',{'clip-path':'url(#'+clipId+')'},g);
  
  
  const all = P.oth.map(d=>[d[0],d[1],d[2]]).concat(P.mem.map(d=>[d[0],d[1],memberProb]));
  all.sort((a,b)=>a[2]-b[2]);
  all.forEach(d=>{
    const c=mk('circle',{cx:sx(d[0]).toFixed(1),cy:sy(d[1]).toFixed(1),r:4.7,fill:plasma(d[2]),'fill-opacity':0.8,stroke:'rgba(60,60,30,0.5)','stroke-width':0.6},pts);
    
    
  });
  if(pi===2){
    const ln=mk('line',{x1:sx(plxLine),x2:sx(plxLine),y1:P.y0,y2:P.y1,stroke:'#000','stroke-width':5,'stroke-dasharray':'5 9.7'},g);
    
    
  }
  const fr=mk('rect',{x:P.x0,y:P.y0,width:P.x1-P.x0,height:P.y1-P.y0,fill:'none',stroke:'#000','stroke-width':1.2},g);
  
  
  const tk=mk('g',{stroke:'#000','stroke-width':1},g);
  const xlo=Math.min(...P.xd), xhi=Math.max(...P.xd), ylo=Math.min(...P.yd), yhi=Math.max(...P.yd);
  for(let v=Math.ceil(xlo/P.xminor)*P.xminor; v<=xhi+1e-9; v+=P.xminor){
    const X=sx(v); mk('line',{x1:X,x2:X,y1:P.y1,y2:P.y1-3.5},tk); mk('line',{x1:X,x2:X,y1:P.y0,y2:P.y0+3.5},tk);
  }
  for(let v=Math.ceil(ylo/P.yminor)*P.yminor; v<=yhi+1e-9; v+=P.yminor){
    const Y=sy(v); mk('line',{x1:P.x0,x2:P.x0+3.5,y1:Y,y2:Y},tk); mk('line',{x1:P.x1,x2:P.x1-3.5,y1:Y,y2:Y},tk);
  }
  P.xt.forEach(v=>{
    const X=sx(v); mk('line',{x1:X,x2:X,y1:P.y1,y2:P.y1-7},tk); mk('line',{x1:X,x2:X,y1:P.y0,y2:P.y0+7},tk);
    const t=mk('text',{x:X,y:P.y1+24,'font-size':15.5,'text-anchor':'middle'},g); t.textContent=fmt(v,P.xdec);
    
    
  });
  P.yt.forEach(v=>{
    const Y=sy(v); mk('line',{x1:P.x0,x2:P.x0+7,y1:Y,y2:Y},tk); mk('line',{x1:P.x1,x2:P.x1-7,y1:Y,y2:Y},tk);
    const t=mk('text',{x:P.x0-8,y:Y+5.5,'font-size':15.5,'text-anchor':'end'},g); t.textContent=fmt(v,P.ydec);
    
    
  });
  const xl=mk('text',{x:(P.x0+P.x1)/2,y:P.y1+53,'font-size':18.5,'text-anchor':'middle'},g); xl.textContent=P.xl;
  
  
  const yc=(P.y0+P.y1)/2;
  const yl=mk('text',{x:P.ylx,y:yc,'font-size':18.5,'text-anchor':'middle',transform:'rotate(-90 '+P.ylx+' '+yc+')'},g); yl.textContent=P.yl;
  
  
});

const cb=mk('g',{});


const cbx0=1064, cbx1=1084, cby0=69, cby1=1001;
mk('rect',{x:cbx0,y:cby0,width:cbx1-cbx0,height:cby1-cby0,fill:'url(#plasmaGrad)','fill-opacity':0.8},cb);
mk('rect',{x:cbx0,y:cby0,width:cbx1-cbx0,height:cby1-cby0,fill:'none',stroke:'#000','stroke-width':1.2},cb);
const cy=v=>cby1-(v-cbMin)/(cbMax-cbMin)*(cby1-cby0);
for(let v=71; v<100; v++){ const Y=cy(v/100); mk('line',{x1:cbx1,x2:cbx1-3,y1:Y,y2:Y,stroke:'#000','stroke-width':1},cb); }
cbTicks.forEach(v=>{
  const Y=cy(v); mk('line',{x1:cbx1,x2:cbx1-6,y1:Y,y2:Y,stroke:'#000','stroke-width':1},cb);
  const t=mk('text',{x:cbx1+13,y:Y+6,'font-size':17},cb); t.textContent=v.toFixed(2);
  
  
});
</script>
</body></html>
